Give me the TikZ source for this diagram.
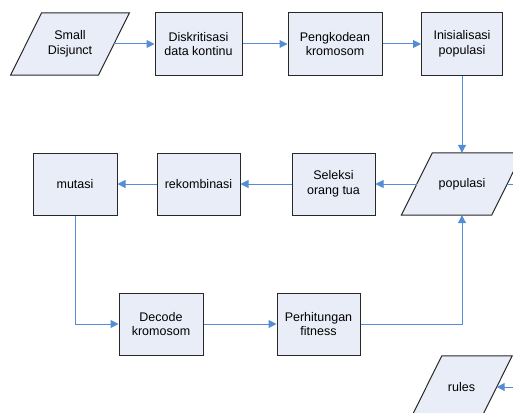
\documentclass[tikz,border=0pt]{standalone}
\usepackage{fontspec}
\setmainfont{Liberation Sans}
\usetikzlibrary{arrows.meta,backgrounds}
\definecolor{boxfill}{RGB}{233,237,247}
\definecolor{arrowblue}{RGB}{84,141,212}
\definecolor{edge}{RGB}{40,40,40}
\begin{document}
\begin{tikzpicture}[x=1pt,y=-1pt,
  txt/.style={font=\fontsize{12.5}{14.5}\selectfont, align=center, inner sep=0pt},
  box/.style={txt, draw=edge, line width=1pt, fill=boxfill, minimum height=62pt},
  paranode/.style={txt, minimum height=62pt},
  parashape/.style={draw=edge, line width=1pt, fill=boxfill},
  conn/.style={draw=arrowblue, line width=1pt},
  arr/.style={conn, -{Triangle[length=8pt,width=8pt]}}]
\useasboundingbox (0,0) rectangle (513,412);
\clip (0,0) rectangle (513,412);
% nodes
\node[paranode, minimum width=87.5pt] (sd) at (70,44) {Small\\Disjunct};
\node[box, minimum width=87pt] (disk) at (198.5,44) {Diskritisasi\\data kontinu};
\node[box, minimum width=94pt] (peng) at (335,44) {Pengkodean\\kromosom};
\node[box, minimum width=81pt] (inis) at (462,44) {Inisialisasi\\populasi};
\node[paranode, minimum width=90pt] (pop) at (462,184) {populasi};
\node[box, minimum width=83pt] (sel) at (333.5,184) {Seleksi\\orang tua};
\node[box, minimum width=83pt] (rek) at (198.5,184) {rekombinasi};
\node[box, minimum width=84pt] (mut) at (75,184) {mutasi};
\node[box, minimum width=84pt] (dec) at (161,324) {Decode\\kromosom};
\node[box, minimum width=83pt] (fit) at (318.5,324) {Perhitungan\\fitness};
\node[paranode, minimum width=70pt] (rules) at (461.5,387) {rules};
\coordinate (popout) at (513,184);
\coordinate (rulesin) at (513,387);
% parallelogram outlines
\begin{pgfonlayer}{background}
\foreach \n in {sd,pop,rules}{
  \path[parashape] ([xshift=15.5]\n.north west) -- ([xshift=15.5]\n.north east)
    -- ([xshift=-15.5]\n.south east) -- ([xshift=-15.5]\n.south west) -- cycle;
}
\end{pgfonlayer}
% connectors
\draw[arr] (sd.east) -- (disk.west);
\draw[arr] (disk) -- (peng);
\draw[arr] (peng) -- (inis);
\draw[arr] (inis.south) -- (pop.north);
\draw[arr] (pop.west) -- (sel.east);
\draw[arr] (sel) -- (rek);
\draw[arr] (rek) -- (mut);
\draw[arr] (mut.south) |- (dec.west);
\draw[arr] (dec) -- (fit);
\draw[arr] (fit.east) -| (pop.south);
\draw[conn] (pop.east) -- (popout);
\draw[arr] (rulesin) -- (rules.east);
\end{tikzpicture}
\end{document}
